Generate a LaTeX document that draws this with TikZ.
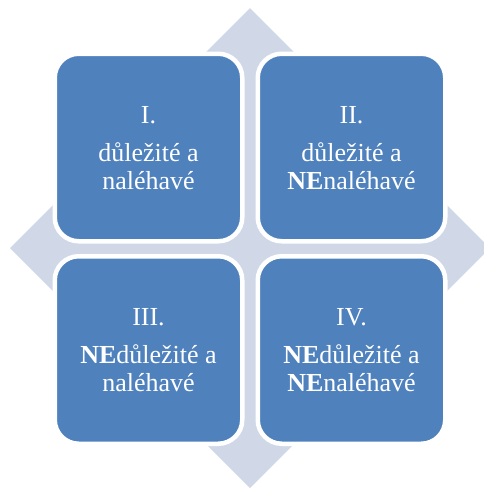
\documentclass[tikz,border=0pt]{standalone}
\usepackage{fontspec}
\setmainfont{Liberation Serif}
\definecolor{quadblue}{HTML}{4F81BD}
\definecolor{crossgray}{HTML}{D0D8E8}
\begin{document}
\begin{tikzpicture}[x=1pt,y=-1pt,
  quad/.style={draw=white, line width=4.5pt, fill=quadblue, rounded corners=24pt,
    minimum width=187.5pt, minimum height=187.5pt, inner sep=0pt, outer sep=0pt},
  txt/.style={text=white, font=\fontsize{26}{28}\selectfont, anchor=base, inner sep=0pt}]
\useasboundingbox (0,0) rectangle (484,488);
% background diamond
\begin{scope}
  \clip (0,0) rectangle (484,488);
  \fill[crossgray] (250,8) -- (490,248) -- (250,488) -- (10,248) -- cycle;
\end{scope}
% quadrants
\node[quad] (q1) at (148.5,147.5) {};
\node[quad] (q2) at (351.5,147.5) {};
\node[quad] (q3) at (148.5,350) {};
\node[quad] (q4) at (351.5,350) {};
% labels
\node[txt] (t1a) at (148.5,123) {I.};
\node[txt] (t1b) at (148.5,161) {důležité a};
\node[txt] (t1c) at (148.5,189) {naléhavé};
\node[txt] (t2a) at (351.5,123) {II.};
\node[txt] (t2b) at (351.5,161) {důležité a};
\node[txt] (t2c) at (351.5,189) {\textbf{NE}naléhavé};
\node[txt] (t3a) at (148.5,325) {III.};
\node[txt] (t3b) at (148.5,363) {\textbf{NE}důležité a};
\node[txt] (t3c) at (148.5,391) {naléhavé};
\node[txt] (t4a) at (351.5,325) {IV.};
\node[txt] (t4b) at (351.5,363) {\textbf{NE}důležité a};
\node[txt] (t4c) at (351.5,391) {\textbf{NE}naléhavé};
\end{tikzpicture}
\end{document}
